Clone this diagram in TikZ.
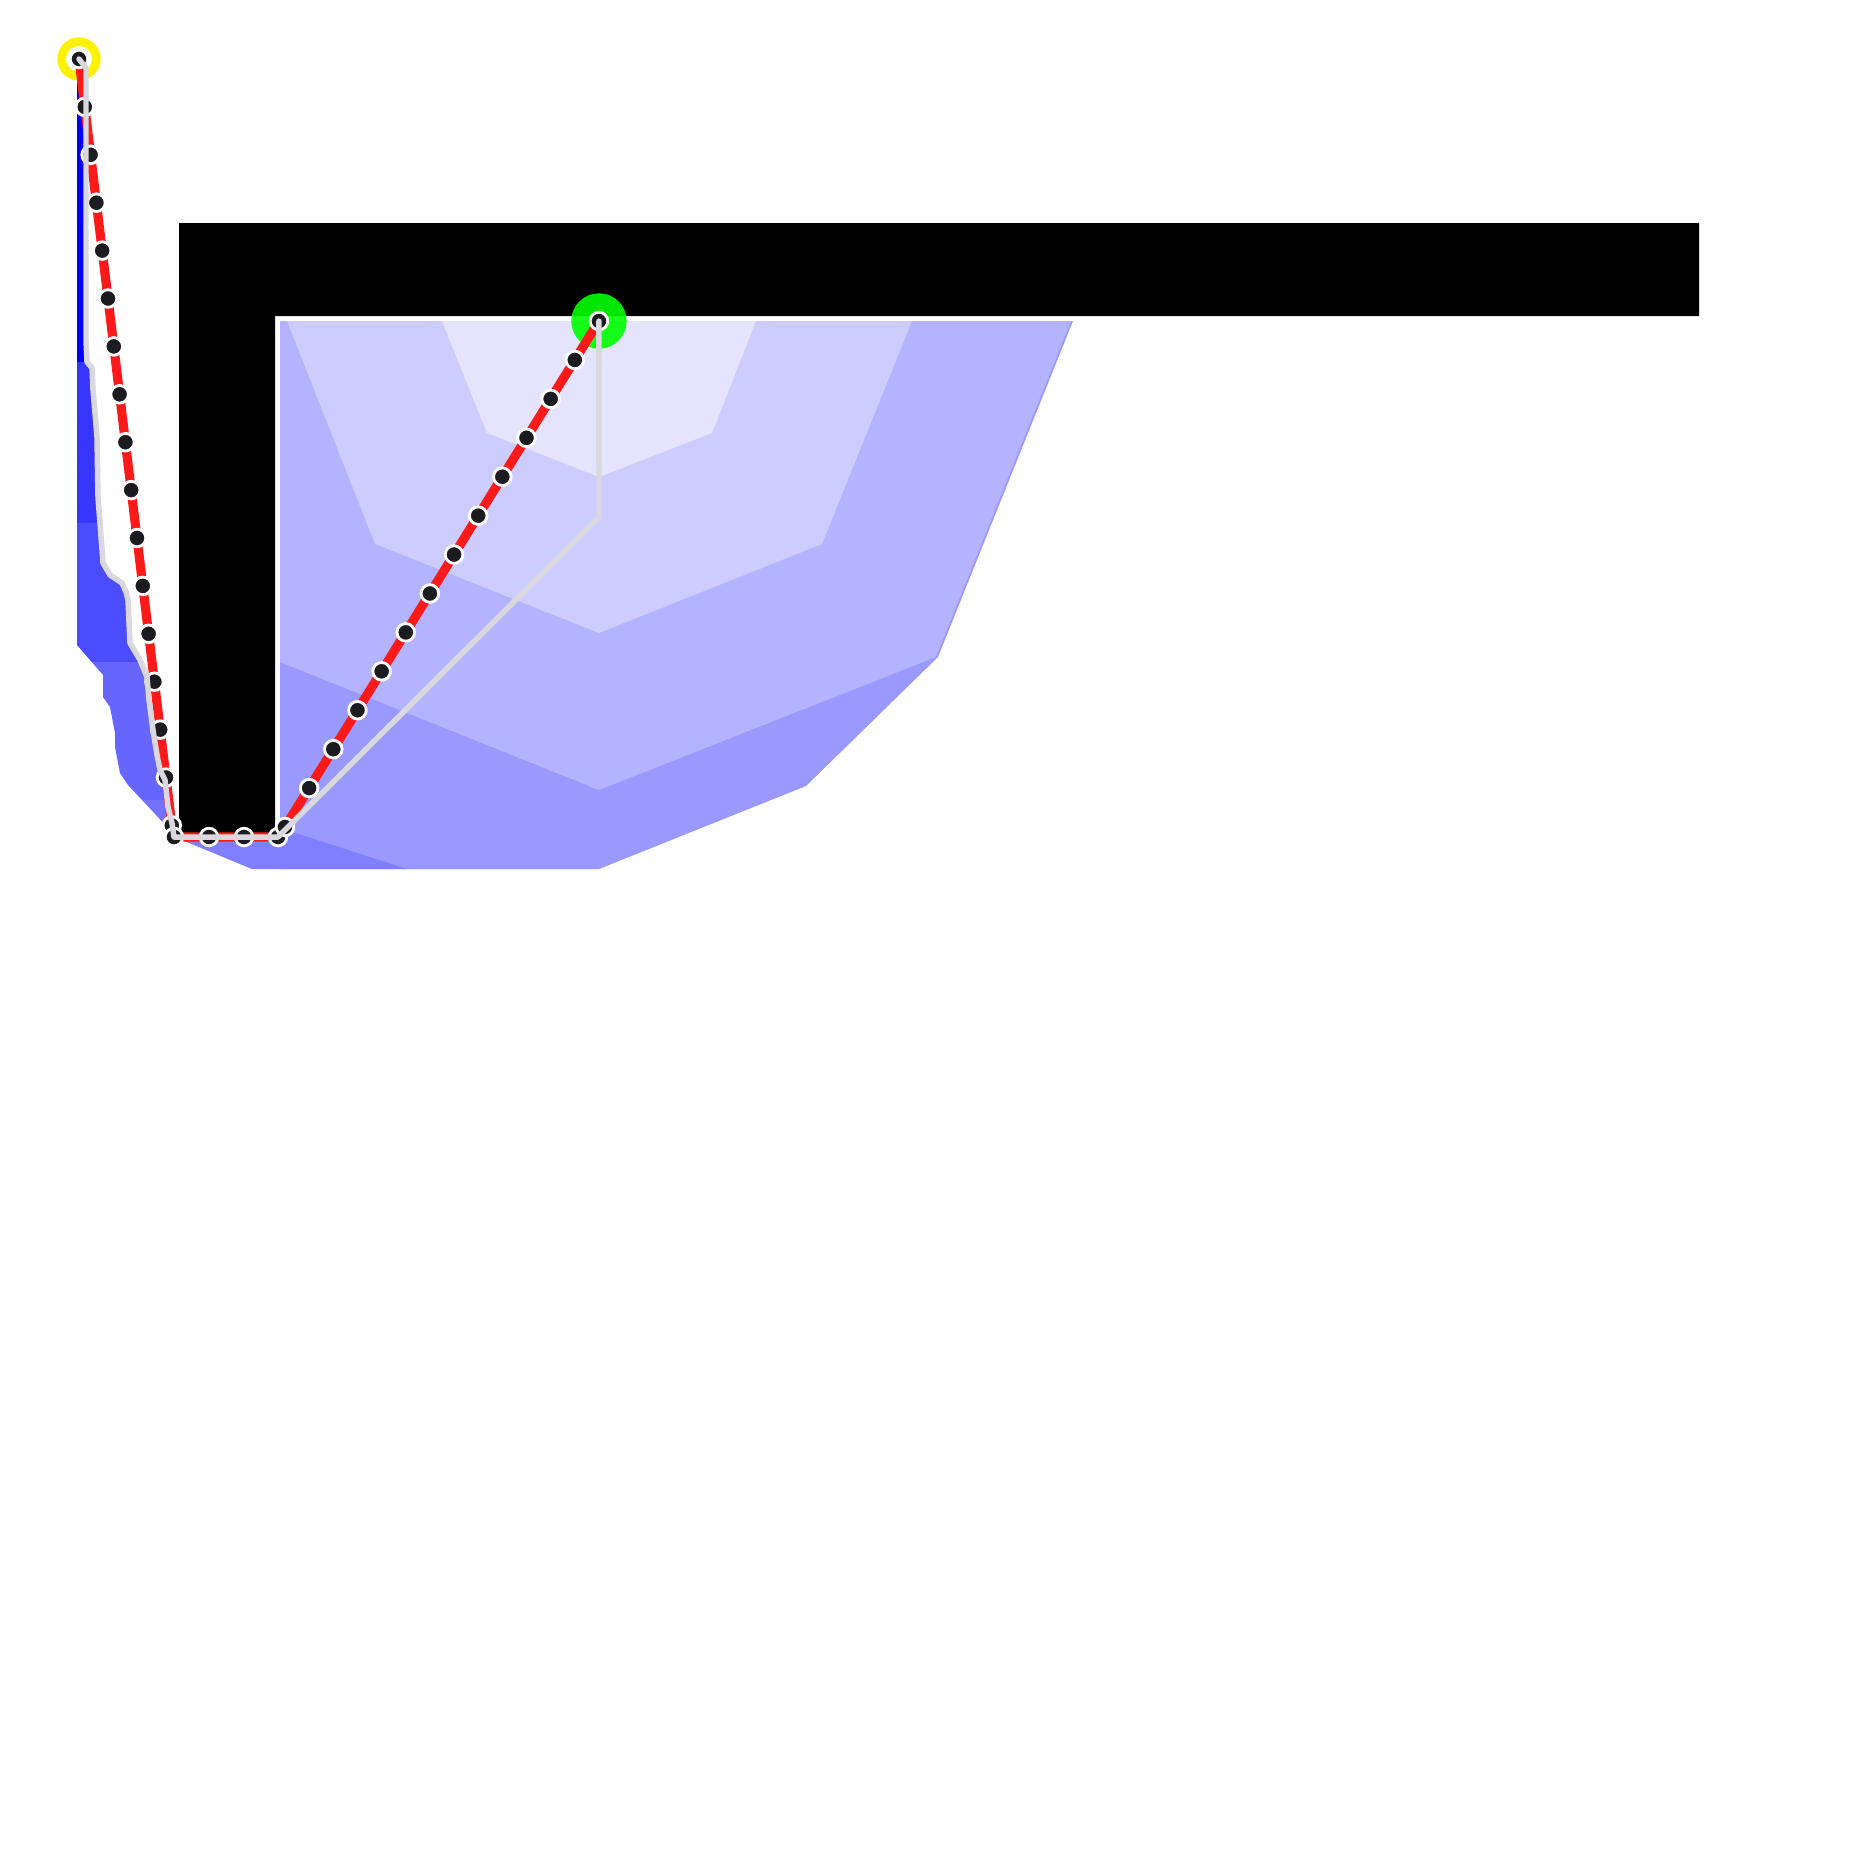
\documentclass[tikz,border=0pt]{standalone}
\usetikzlibrary{calc}
\definecolor{regA}{HTML}{E4E4FF}
\definecolor{regB}{HTML}{CCCCFF}
\definecolor{regC}{HTML}{B3B3FF}
\definecolor{regD}{HTML}{9999FF}
\definecolor{regE}{HTML}{8080FF}
\definecolor{blA}{HTML}{0000FF}
\definecolor{blB}{HTML}{3636FF}
\definecolor{blC}{HTML}{4B4BFF}
\definecolor{blD}{HTML}{6666FF}
\definecolor{blE}{HTML}{7272FF}
\definecolor{pathred}{HTML}{FF1A1A}
\definecolor{pathgrey}{HTML}{D8D8DE}
\definecolor{dotfill}{HTML}{1C1C20}
\definecolor{goalgreen}{HTML}{00FF00}
\tikzset{
  redpath/.style={draw=pathred, line width=2.6pt, line join=round},
  greypath/.style={draw=pathgrey, line width=1.56pt, line join=round, line cap=round},
  waydot/.style={circle, fill=dotfill, draw=white, line width=0.8pt, minimum size=0.176cm, inner sep=0pt},
}
\begin{document}
\begin{tikzpicture}[x=0.01cm,y=-0.01cm]
\useasboundingbox (0,0) rectangle (1860,1860);
\fill[white] (0,0) rectangle (1860,1860);

% wavefront regions right of the wall
\fill[regD] (280,321) -- (1073,321) -- (938,657) -- (806,786) -- (599,869) -- (280,869) -- cycle;
\fill[regC] (280,321) -- (1071,321) -- (936,657) -- (599,790) -- (280,662) -- cycle;
\fill[regB] (287,321) -- (912,321) -- (822,544) -- (599,633) -- (375,544) -- cycle;
\fill[regA] (442,321) -- (756,321) -- (712,433) -- (599,477) -- (487,433) -- cycle;
\fill[regE] (165,826) -- (280,828) -- (407,869) -- (252,869) -- (177,838) -- cycle;

% explored region left of the wall
\begin{scope}
\clip (77,60) -- (86,60) -- (86,340) -- (87,362) -- (92,368) -- (93,390) -- (97,437)
  -- (98,497) -- (100,523) -- (103,563) -- (110,575) -- (122,583) -- (126,592)
  -- (128,600) -- (130,643) -- (140,660) -- (147,677) -- (149,700) -- (153,730)
  -- (157,755) -- (160,770) -- (165,780) -- (168,807) -- (172,823) -- (175,837)
  -- (177,838) -- (170,830) -- (128,785) -- (120,773) -- (115,747) -- (115,733)
  -- (110,707) -- (103,697) -- (103,675) -- (77,645) -- cycle;
\fill[blA] (0,0) rectangle (300,362);
\fill[blB] (0,362) rectangle (300,523);
\fill[blC] (0,523) rectangle (300,662);
\fill[blD] (0,662) rectangle (300,800);
\fill[blE] (0,800) rectangle (300,870);
\end{scope}

% wall
\fill[black] (179,223) -- (1699,223) -- (1699,316) -- (275,316) -- (275,835) -- (179,835) -- cycle;

% waypoints of the red path
\foreach \i in {0,...,16} \coordinate (r\i) at ({79+5.8*\i},{59+47.9*\i});
\coordinate (r17) at (174,837);
\coordinate (r18) at (209,837);
\coordinate (r19) at (244,837);
\coordinate (r20) at (278,837);
\coordinate (r21) at (285,827);
\foreach \k in {1,...,13} {
  \pgfmathtruncatemacro\j{21+\k}
  \coordinate (r\j) at ({285+24.15*\k},{827-38.92*\k});
}

% goal and start markers
\fill[goalgreen, opacity=0.9] (r34) circle[radius=0.277cm];
\draw[yellow, line width=2.47pt] (r0) circle[radius=0.173cm];

% red path
\draw[redpath] (r0) \foreach \i in {1,...,34}{ -- (r\i)};

% dots
\foreach \i in {0,...,34} \node[waydot] (d\i) at (r\i) {};

% grey path
\draw[greypath] (r0) -- (86,68) -- (86,340) -- (87,362) -- (92,368) -- (93,390)
  -- (97,437) -- (98,497) -- (100,523) -- (103,563) -- (110,575) -- (122,583)
  -- (126,592) -- (128,600) -- (130,643) -- (140,660) -- (147,677) -- (149,700)
  -- (153,730) -- (157,755) -- (160,770) -- (165,780) -- (168,807) -- (172,823)
  -- (r17) -- (r20) -- (599,517) -- (r34);
\end{tikzpicture}
\end{document}
